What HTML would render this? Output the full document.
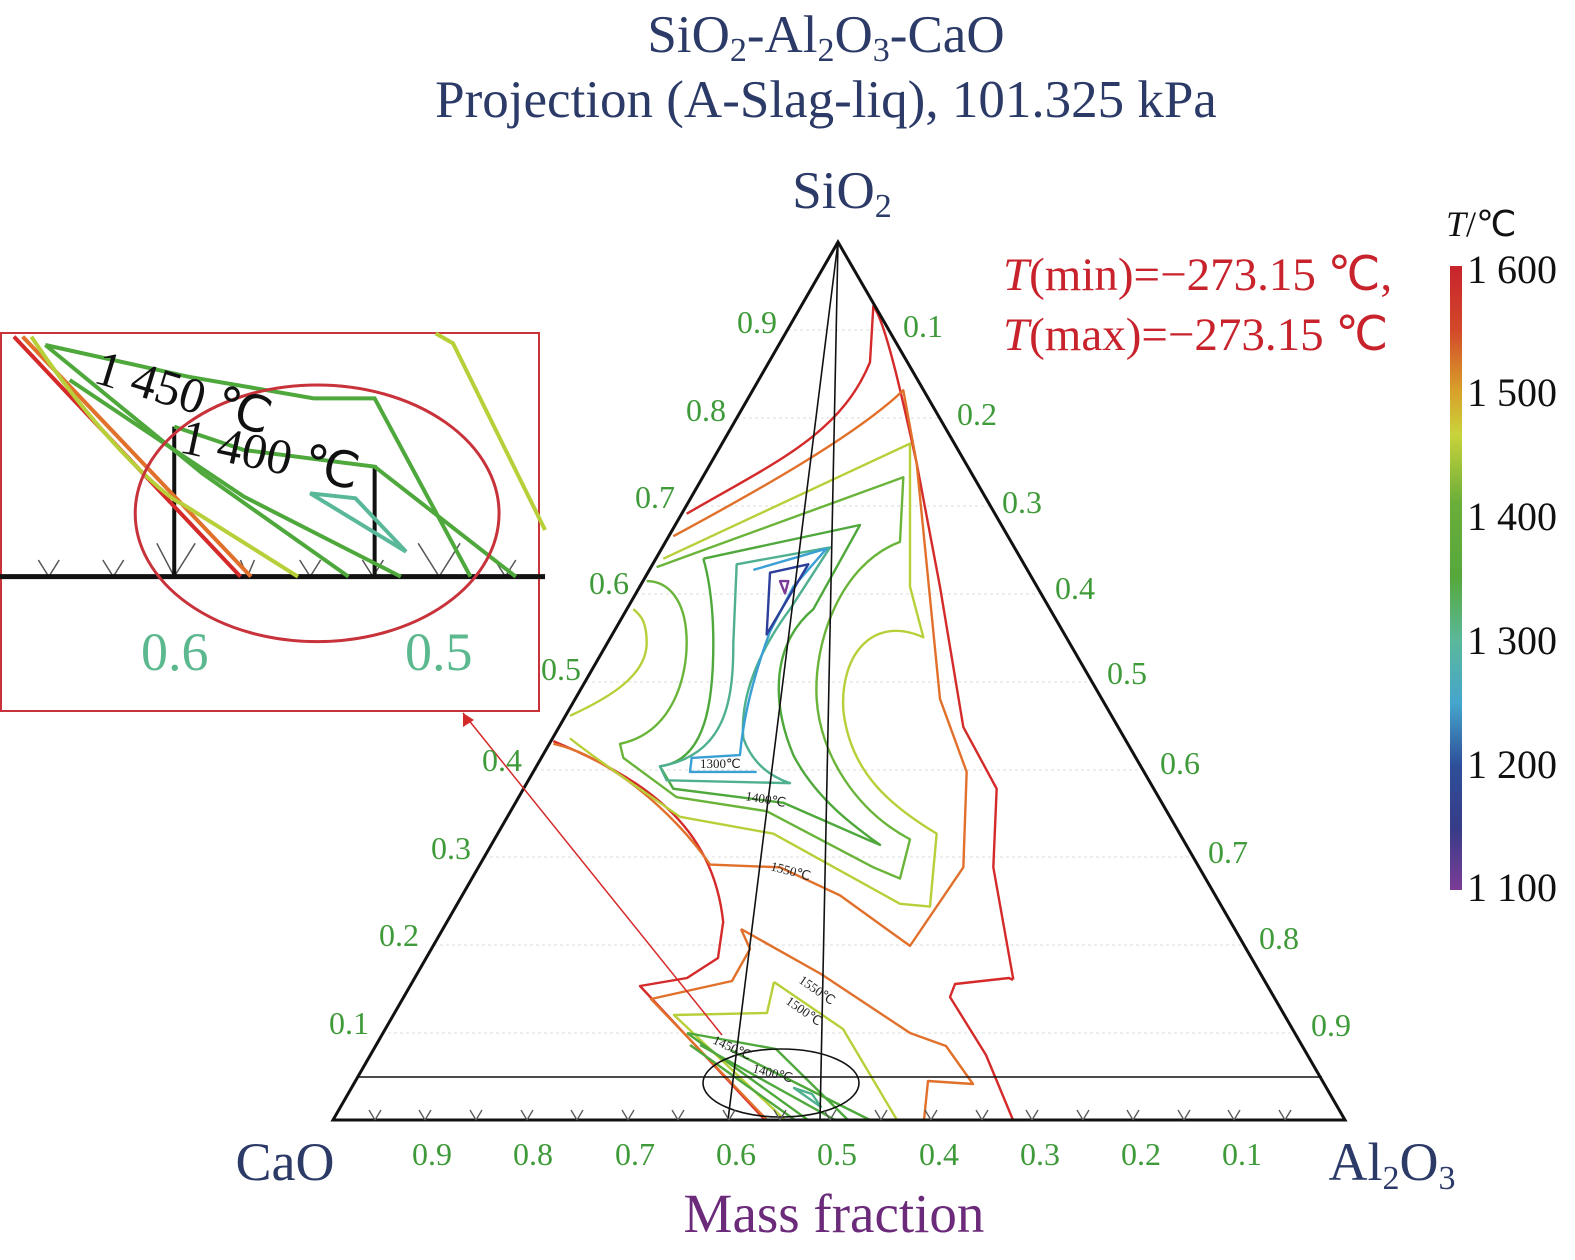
<!DOCTYPE html>
<html><head><meta charset="utf-8"><style>
html,body{margin:0;padding:0;background:#fff;}
svg{display:block;font-family:"Liberation Serif",serif;}
</style></head><body>
<svg width="1575" height="1260" viewBox="0 0 1575 1260" xmlns="http://www.w3.org/2000/svg">
<defs>
<linearGradient id="cb" x1="0" y1="0" x2="0" y2="1">
<stop offset="0" stop-color="#c8232c"/><stop offset="0.1" stop-color="#d2472a"/><stop offset="0.2" stop-color="#d9a02a"/>
<stop offset="0.27" stop-color="#c9d33a"/><stop offset="0.38" stop-color="#6aae3a"/><stop offset="0.5" stop-color="#56a83c"/>
<stop offset="0.6" stop-color="#5ab89a"/><stop offset="0.7" stop-color="#46a6cc"/><stop offset="0.8" stop-color="#2e4f9a"/>
<stop offset="0.9" stop-color="#373c88"/><stop offset="1" stop-color="#7a3c96"/></linearGradient>
</defs>
<!-- titles -->
<g fill="#2b3a67" text-anchor="middle">
<text x="826" y="52" font-size="53">SiO<tspan font-size="34" dy="9">2</tspan><tspan dy="-9">-Al</tspan><tspan font-size="34" dy="9">2</tspan><tspan dy="-9">O</tspan><tspan font-size="34" dy="9">3</tspan><tspan dy="-9">-CaO</tspan></text>
<text x="826" y="117" font-size="53">Projection (A-Slag-liq), 101.325 kPa</text>
<text x="842" y="208" font-size="53">SiO<tspan font-size="34" dy="9">2</tspan></text>
<text x="285" y="1180" font-size="54">CaO</text>
<text x="1392" y="1180" font-size="54">Al<tspan font-size="34" dy="9">2</tspan><tspan dy="-9">O</tspan><tspan font-size="34" dy="9">3</tspan></text>
</g>
<text x="834" y="1232" font-size="55" fill="#6b2a7a" text-anchor="middle">Mass fraction</text>
<g fill="#c8232c" font-size="47"><text x="1003" y="290"><tspan font-style="italic">T</tspan>(min)=−273.15 ℃,</text><text x="1003" y="350"><tspan font-style="italic">T</tspan>(max)=−273.15 ℃</text></g>
<!-- colorbar -->
<rect x="1450" y="266" width="12" height="624" fill="url(#cb)"/>
<text x="1446" y="236" font-size="36" fill="#111"><tspan font-style="italic">T</tspan>/℃</text>
<g font-size="40" fill="#111"><text x="1467" y="283">1 600</text><text x="1467" y="406">1 500</text><text x="1467" y="530">1 400</text><text x="1467" y="654">1 300</text><text x="1467" y="778">1 200</text><text x="1467" y="901">1 100</text></g>
<!-- grid -->
<g stroke="#ddd" stroke-width="1" stroke-dasharray="3,3" fill="none">
<path d="M382,1033H1295M434,945H1244M484,857H1193M535,770H1143M586,682H1092M636,594H1041M687,506H991M737,418H940M788,330H889"/>
</g>
<!-- contours in zoom coords -->
<g transform="translate(540,250) scale(0.33333,0.5612)" fill="none" stroke-width="2.4" stroke-linejoin="round">
<path vector-effect="non-scaling-stroke" stroke="#d42a2a" d="M440,470 C700,380 900,330 990,200 L1000,100 C1040,130 1100,300 1130,380 L1200,600 L1270,850 L1370,960 L1360,1100 L1420,1300"/>
<path vector-effect="non-scaling-stroke" stroke="#d42a2a" d="M40,875 C300,940 520,1020 550,1200"/>
<path vector-effect="non-scaling-stroke" stroke="#e0702a" d="M400,510 C650,430 950,330 1090,250 L1130,380 L1200,800 L1280,930 L1270,1100 L1110,1240 L900,1150 L720,1100 L510,1095 C400,1000 200,900 40,880"/>
<path vector-effect="non-scaling-stroke" stroke="#b8cf3a" d="M370,550 L1110,345 L1110,600 L1150,690 C1000,650 900,720 910,820 C930,930 1050,990 1190,1040 L1170,1170 L1080,1165 L700,1040 L420,1010 C300,960 150,900 90,870 M90,830 C200,800 320,760 320,700 C320,660 300,650 280,640"/>
<path vector-effect="non-scaling-stroke" stroke="#6ab43a" d="M350,565 L1090,405 L1080,520 C900,560 820,700 830,800 C840,900 950,1000 1110,1050 L1080,1120 L1000,1100 L680,1000 L410,975 L250,905 L240,880 C400,860 440,760 440,700 C440,620 380,590 320,590"/>
<path vector-effect="non-scaling-stroke" stroke="#4fa83c" d="M490,550 L960,490 L820,640 C700,700 690,800 760,900 C830,980 950,1030 1020,1060 L980,1050 L730,985 L400,960 L360,920 C500,910 520,800 520,700 C520,620 500,570 490,550"/>
<path vector-effect="non-scaling-stroke" stroke="#4fb090" d="M590,560 L870,530 L750,640 C650,720 600,800 610,870 C640,920 700,940 750,950 L380,945 L360,920 C560,900 580,800 580,700 Z"/>
<path vector-effect="non-scaling-stroke" stroke="#3a9fd4" d="M640,570 L860,532 L760,600 L690,680 C640,760 610,830 600,900 L455,905 L450,930 L650,930"/>
<path vector-effect="non-scaling-stroke" stroke="#2c3f9a" d="M690,575 L805,560 L680,685 Z"/>
<path vector-effect="non-scaling-stroke" stroke="#7a3c96" d="M720,590 L745,590 L735,612 Z"/>
</g>
<!-- lower region contours (real coords) -->
<g fill="none" stroke-width="2.4" stroke-linejoin="round">
<path stroke="#d42a2a" d="M1013,980 L1009,978 L955,984 L950,997 L986,1055 L1013,1120"/>
<path stroke="#d42a2a" d="M723,923 L718,958 L687,978 L640,986 L765,1120"/>
<path stroke="#e0702a" d="M741,929 L750,949 L732,981 L651,999 L767,1120 M741,929 L821,974 L910,1033 L946,1046 L973,1084 L928,1081 L924,1120"/>
<path stroke="#b8cf3a" d="M774,982 L767,1013 L674,1015 L785,1120 M774,982 L843,1029 L897,1120"/>
<path stroke="#4fa83c" d="M687,1033 L808,1120 M687,1033 L776,1049 L848,1120 M700,1045 L835,1120 M730,1050 L870,1120 M690,1045 L795,1120"/>
<path stroke="#4fb090" d="M794,1088 L812,1094 L821,1107 Z"/>
</g>
<!-- triangle -->
<path d="M838,242 L333,1120 L1345,1120 Z" fill="none" stroke="#111" stroke-width="3"/>
<g stroke="#111" stroke-width="1.6" fill="none">
<path d="M838,242 L728,1120 M838,242 L820,1120 M358,1077 H1322"/>
<ellipse cx="781" cy="1083" rx="78" ry="34"/>
</g>
<path d="M722,1035 L463,713" stroke="#d42a2a" stroke-width="1.5"/>
<path d="M463,713 L463,727 L474,720 Z" fill="#d42a2a"/>
<!-- bottom Y ticks -->
<g stroke="#555" stroke-width="1.3" fill="none">
<path d="M375,1120l-6,-10M375,1120l6,-10M425,1120l-6,-10M425,1120l6,-10M476,1120l-6,-10M476,1120l6,-10M527,1120l-6,-10M527,1120l6,-10M577,1120l-6,-10M577,1120l6,-10M628,1120l-6,-10M628,1120l6,-10M678,1120l-6,-10M678,1120l6,-10M729,1120l-6,-10M729,1120l6,-10M780,1120l-6,-10M780,1120l6,-10M830,1120l-6,-10M830,1120l6,-10M881,1120l-6,-10M881,1120l6,-10M931,1120l-6,-10M931,1120l6,-10M982,1120l-6,-10M982,1120l6,-10M1032,1120l-6,-10M1032,1120l6,-10M1083,1120l-6,-10M1083,1120l6,-10M1133,1120l-6,-10M1133,1120l6,-10M1184,1120l-6,-10M1184,1120l6,-10M1234,1120l-6,-10M1234,1120l6,-10M1285,1120l-6,-10M1285,1120l6,-10"/>
</g>
<!-- small contour labels -->
<g font-size="13" fill="#222">
<text x="700" y="768">1300℃</text>
<text x="745" y="800" transform="rotate(10 745 800)">1400℃</text>
<text x="770" y="870" transform="rotate(15 770 870)">1550℃</text>
<text x="798" y="982" transform="rotate(35 798 982)">1550℃</text>
<text x="785" y="1003" transform="rotate(35 785 1003)">1500℃</text>
<text x="712" y="1043" transform="rotate(25 712 1043)">1450℃</text>
<text x="752" y="1072" transform="rotate(15 752 1072)">1400℃</text>
</g>
<!-- tick labels -->
<g font-size="32" fill="#3f9a3a">
<text x="737" y="333">0.9</text><text x="686" y="421">0.8</text><text x="635" y="508">0.7</text><text x="589" y="594">0.6</text><text x="541" y="680">0.5</text><text x="482" y="771">0.4</text><text x="431" y="859">0.3</text><text x="379" y="946">0.2</text><text x="329" y="1034">0.1</text>
<text x="903" y="337">0.1</text><text x="957" y="425">0.2</text><text x="1002" y="513">0.3</text><text x="1055" y="599">0.4</text><text x="1107" y="684">0.5</text><text x="1160" y="774">0.6</text><text x="1208" y="863">0.7</text><text x="1259" y="949">0.8</text><text x="1311" y="1036">0.9</text>
<g text-anchor="middle"><text x="432" y="1165">0.9</text><text x="533" y="1165">0.8</text><text x="635" y="1165">0.7</text><text x="736" y="1165">0.6</text><text x="837" y="1165">0.5</text><text x="939" y="1165">0.4</text><text x="1040" y="1165">0.3</text><text x="1141" y="1165">0.2</text><text x="1242" y="1165">0.1</text></g>
</g>
<!-- inset -->
<rect x="1" y="333" width="538" height="378" fill="#fff" stroke="#c8323a" stroke-width="2"/>
<g transform="translate(0,330) scale(0.3485,0.3333)" fill="none">
<path vector-effect="non-scaling-stroke" stroke="#555" stroke-width="1.5" d="M110,690l30,50l30,-50M295,690l30,50l30,-50M450,640l50,100l60,-100M690,690l20,50l20,-50M860,690l30,50l30,-50M1040,690l30,50l30,-50M1200,640l60,100l60,-100M1420,690l30,50l30,-50"/>
<path d="M0,740 H1564" stroke="#111" stroke-width="5" vector-effect="non-scaling-stroke"/>
<path d="M500,740 V290 M1075,740 V405" stroke="#111" stroke-width="4" vector-effect="non-scaling-stroke"/>
<path d="M40,20 L690,740" stroke="#d42a2a" stroke-width="4" vector-effect="non-scaling-stroke"/>
<path d="M65,20 L720,740" stroke="#e0702a" stroke-width="4" vector-effect="non-scaling-stroke"/>
<path d="M90,20 C300,350 500,520 520,520 L855,740" stroke="#b8cf3a" stroke-width="4" vector-effect="non-scaling-stroke"/>
<path d="M130,45 L540,140 L900,205 L1075,205 L1350,740 M130,45 L580,430 L1000,740" stroke="#4fa83c" stroke-width="4" vector-effect="non-scaling-stroke"/>
<path d="M500,290 L700,360 L1075,410 L1480,740 M200,150 L700,500 L1150,740" stroke="#4fa83c" stroke-width="4" vector-effect="non-scaling-stroke"/>
<path d="M890,490 L1020,505 L1165,665 Z" stroke="#5ab89a" stroke-width="4" vector-effect="non-scaling-stroke"/>
<path d="M1250,10 L1300,40 L1564,600" stroke="#b8cf3a" stroke-width="4" vector-effect="non-scaling-stroke"/>
<ellipse cx="910" cy="550" rx="522" ry="385" stroke="#c8323a" stroke-width="3" vector-effect="non-scaling-stroke"/>
</g>
<g font-size="50" fill="#111" font-family="Liberation Serif, serif">
<text x="92" y="382" transform="rotate(17 92 382)">1 450 ℃</text>
<text x="178" y="452" transform="rotate(12 178 452)">1 400 ℃</text>
</g>
<g font-size="54" fill="#5cb88f"><text x="141" y="670">0.6</text><text x="405" y="670">0.5</text></g>
</svg>
</body></html>
